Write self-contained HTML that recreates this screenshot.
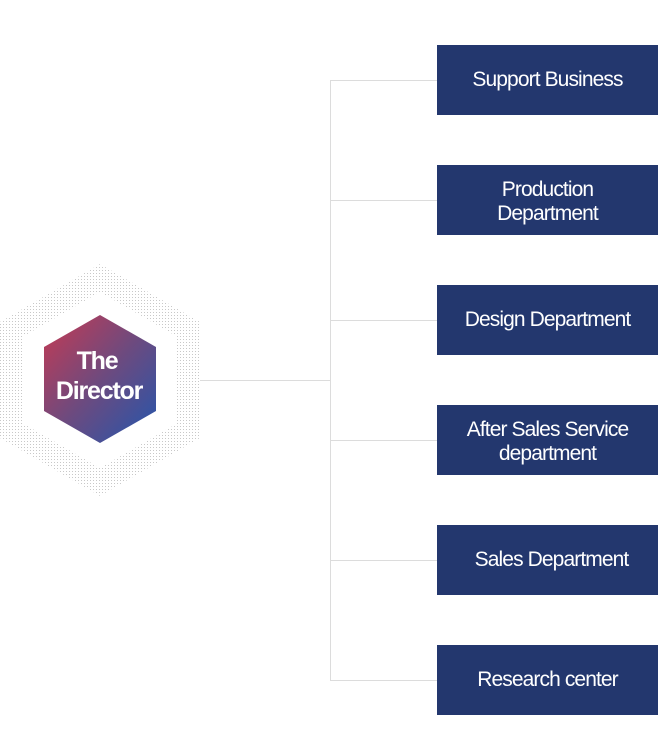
<!DOCTYPE html>
<html><head><meta charset="utf-8"><style>
body{margin:0;width:660px;height:744px;background:#fff;position:relative;overflow:hidden;font-family:"Liberation Sans","Noto Sans CJK KR",sans-serif}
.b{position:absolute;left:437px;width:221px;height:70px;background:#23376e;color:#fff;display:flex;align-items:center;justify-content:center;text-align:center;font-size:21px;line-height:24px;letter-spacing:-0.9px}
</style></head><body>
<svg width="660" height="744" style="position:absolute;left:0;top:0">
<defs>
<pattern id="d" width="3" height="3" patternUnits="userSpaceOnUse"><rect width="1" height="1" fill="#c8c8c8"/></pattern>
<linearGradient id="g" x1="0" y1="0" x2="1" y2="1"><stop offset="0" stop-color="#c73a52"/><stop offset="0.5" stop-color="#6e4a7e"/><stop offset="1" stop-color="#2356ad"/></linearGradient>
</defs>
<polygon points="100,264 200,322 200,438 100,496 0,438 0,322" fill="url(#d)"/>
<polygon points="100,292 176,336 176,424 100,468 24,424 24,336" fill="#fff"/>
<polygon points="100,315 156,347 156,411 100,443 44,411 44,347" fill="url(#g)"/>
<g stroke="#dcdcdc" stroke-width="1" fill="none">
<line x1="200" y1="380.5" x2="330" y2="380.5"/>
<line x1="330.5" y1="80" x2="330.5" y2="680"/>
<line x1="330" y1="80.5" x2="437" y2="80.5"/>
<line x1="330" y1="200.5" x2="437" y2="200.5"/>
<line x1="330" y1="320.5" x2="437" y2="320.5"/>
<line x1="330" y1="440.5" x2="437" y2="440.5"/>
<line x1="330" y1="560.5" x2="437" y2="560.5"/>
<line x1="330" y1="680.5" x2="437" y2="680.5"/>
</g>
<text x="97" y="369" text-anchor="middle" fill="#fff" font-family="Liberation Sans" font-weight="bold" font-size="25" letter-spacing="-1.2">The</text>
<text x="99" y="399" text-anchor="middle" fill="#fff" font-family="Liberation Sans" font-weight="bold" font-size="25" letter-spacing="-1.2">Director</text>
</svg>
<div class="b" style="top:45px;padding-top:-2px">Support Business</div>
<div class="b" style="top:165px;padding-top:4px;box-sizing:border-box">Production<br>Department</div>
<div class="b" style="top:285px">Design Department</div>
<div class="b" style="top:405px;padding-top:4px;box-sizing:border-box">After Sales Service<br>department</div>
<div class="b" style="top:525px;padding-left:8px;box-sizing:border-box">Sales Department</div>
<div class="b" style="top:645px">Research center</div>
</body></html>
